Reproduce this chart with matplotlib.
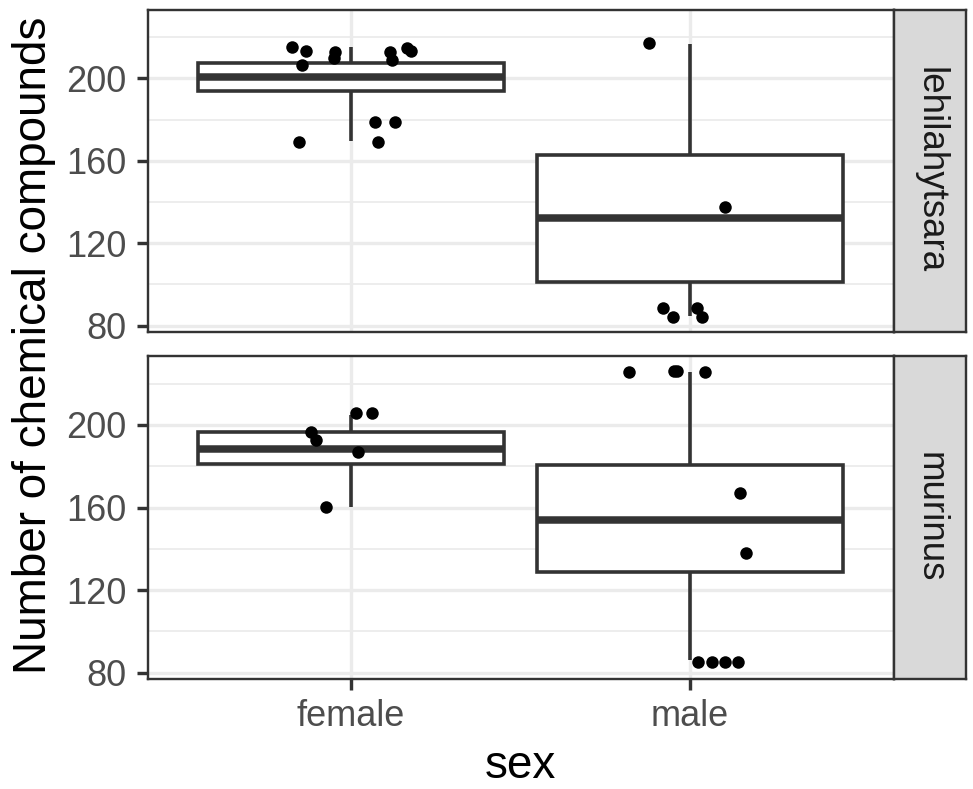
import matplotlib
matplotlib.use("Agg")
import matplotlib.pyplot as plt

plt.rcParams['font.family'] = ['Liberation Sans', 'DejaVu Sans']

# ---------------- data ----------------
categories = ["female", "male"]
species = ["lehilahytsara", "murinus"]
y_ticks = [80, 120, 160, 200]
y_minor = [100, 140, 180, 220]

# jittered points: x offset from category centre, y value
leh_female_dx = [-0.174, -0.134, -0.144, -0.046, -0.051, 0.116, 0.121, 0.165, 0.177, 0.070, 0.130, -0.154, 0.079]
leh_female_y = [215, 213.4, 206.6, 212.7, 209.8, 213, 209, 214.7, 213.4, 178.9, 178.9, 169.2, 169.2]
leh_male_dx = [-0.121, 0.103, -0.080, -0.051, 0.021, 0.035]
leh_male_y = [217.1, 137.7, 88.5, 84.3, 88.7, 84.3]
mur_female_dx = [0.015, 0.062, -0.118, -0.103, 0.021, -0.074]
mur_female_y = [206, 206, 196.6, 192.6, 187.1, 160.3]
mur_male_dx = [-0.180, -0.048, -0.038, 0.044, 0.146, 0.165, 0.024, 0.065, 0.103, 0.140]
mur_male_y = [225.6, 226.3, 226.0, 225.6, 167.2, 137.9, 85.3, 85.3, 85.3, 85.3]

# box statistics: whisker low, q1, median, q3, whisker high
leh_female_box = [169.5, 193.7, 200.6, 207.4, 215.0]
leh_male_box = [84.7, 101.0, 132.1, 162.7, 216.8]
mur_female_box = [160.3, 181.0, 188.5, 196.6, 205.0]
mur_male_box = [86.2, 128.9, 154.1, 180.6, 225.8]

panels = [
    (species[0], [(leh_female_dx, leh_female_y, leh_female_box), (leh_male_dx, leh_male_y, leh_male_box)]),
    (species[1], [(mur_female_dx, mur_female_y, mur_female_box), (mur_male_dx, mur_male_y, mur_male_box)]),
]

# ---------------- layout ----------------
W, H = 973, 789
fig = plt.figure(figsize=(W / 100, H / 100), dpi=100)
fig.patch.set_facecolor("white")

def frac(x0, y0, x1, y1):
    return [x0 / W, 1 - y1 / H, (x1 - x0) / W, (y1 - y0) / H]

panel_px = [(147.5, 9.5, 893.5, 331.5), (147.5, 356, 893.5, 678.5)]
strip_x1 = 966

all_y = leh_female_y + leh_male_y + mur_female_y + mur_male_y
ymin, ymax = min(all_y), max(all_y)
rng = ymax - ymin
ylim = (ymin - 0.05 * rng, ymax + 0.05 * rng)

border = "#333333"
grid = "#EBEBEB"
px = 72 / 100  # points per pixel

for i, (name, groups) in enumerate(panels):
    x0, y0, x1, y1 = panel_px[i]
    ax = fig.add_axes(frac(x0, y0, x1, y1))
    ax.set_xlim(0.4, 2.6)
    ax.set_ylim(*ylim)
    ax.set_facecolor("white")
    for y in y_minor:
        ax.axhline(y, color=grid, lw=1.8 * px, zorder=0)
    for y in y_ticks:
        ax.axhline(y, color=grid, lw=3.4 * px, zorder=0)
    for xc in (1, 2):
        ax.axvline(xc, color=grid, lw=3.4 * px, zorder=0)

    stats = []
    for j, (dx, yy, b) in enumerate(groups):
        stats.append(dict(whislo=b[0], q1=b[1], med=b[2], q3=b[3], whishi=b[4], fliers=[]))
    ax.bxp(stats, positions=[1, 2], widths=0.9, patch_artist=True, showcaps=False,
           boxprops=dict(facecolor="white", edgecolor=border, linewidth=3.6 * px),
           whiskerprops=dict(color=border, linewidth=3.6 * px, solid_capstyle="butt"),
           medianprops=dict(color=border, linewidth=7.5 * px, solid_capstyle="butt"),
           manage_ticks=False, zorder=2)
    for j, (dx, yy, b) in enumerate(groups):
        xs = [j + 1 + d for d in dx]
        ax.scatter(xs, yy, s=(12.5 * px) ** 2, color="black", linewidths=0, zorder=3)

    ax.set_yticks(y_ticks)
    ax.set_yticklabels([str(t) for t in y_ticks])
    ax.set_xticks([1, 2])
    if i == 1:
        ax.set_xticklabels(categories)
    else:
        ax.set_xticklabels([])
    ax.tick_params(axis="both", length=11 * px, width=3.4 * px, color=border,
                   labelsize=26, labelcolor="#4D4D4D", pad=7)
    if i == 0:
        ax.tick_params(axis="x", length=0)
    for s in ax.spines.values():
        s.set_color(border)
        s.set_linewidth(2.4 * px)
        s.set_zorder(5)

    # strip
    sax = fig.add_axes(frac(x1, y0, strip_x1, y1))
    sax.set_xticks([]); sax.set_yticks([])
    sax.set_facecolor("#D9D9D9")
    for s in sax.spines.values():
        s.set_color(border)
        s.set_linewidth(2.4 * px)
    sax.text(0.5, 0.5, name, rotation=-90, ha="center", va="center",
             fontsize=26.5, color="#1A1A1A", transform=sax.transAxes)

fig.text(520 / W, 1 - 766 / H, "sex", ha="center", va="center", fontsize=33, color="black")
fig.text(34 / W, 1 - 345 / H, "Number of chemical compounds", ha="center", va="center",
         rotation=90, fontsize=33, color="black")

fig.savefig("out.png", dpi=100)
